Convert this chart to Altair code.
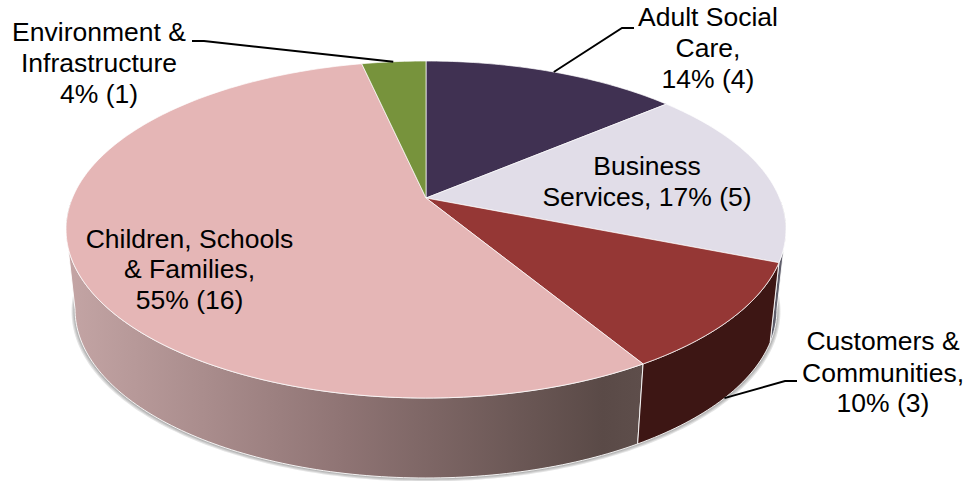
import math
import altair as alt

# Council services and the number of items in each, clockwise from twelve o'clock
services = ["Adult Social Care", "Business Services", "Customers & Communities",
            "Children, Schools & Families", "Environment & Infrastructure"]
counts = [4, 5, 3, 16, 1]
top_colors = ["#403152", "#E1DDE8", "#953735", "#E5B6B6", "#77933C"]
wall_colors = {"Business Services": "#5F5E6B", "Customers & Communities": "#3D1614"}

# Label lines: text, centre x, baseline y
label_text = ["Environment &", "Infrastructure", "4% (1)",
              "Adult Social", "Care,", "14% (4)",
              "Business", "Services, 17% (5)",
              "Children, Schools", "& Families,", "55% (16)",
              "Customers &", "Communities,", "10% (3)"]
label_x = [99, 99, 99, 708, 708, 708, 647, 647, 189.5, 189.5, 189.5, 883, 883, 883]
label_y = [41, 72, 103, 26, 57, 88, 175, 206, 248, 278, 309, 350, 382, 412]

# Camera used for the tilted disc
CX, APEX_Y, RX, RY, PERSP = 426.0, 198.0, 353.6, 162.6, 0.187
DEPTH, BASE_SCALE = 80.0, 0.975
WIDE_RIGHT = 100.8   # angle of the disc's right-most rim point
WIDE_LEFT = 259.2    # angle of the disc's left-most rim point


def rim(angle, lower=False, grow=0.0):
    a = math.radians(angle)
    w = 1 + PERSP * math.cos(a)
    x = RX * math.sin(a) / w
    y = APEX_Y - RY * math.cos(a) / w
    if lower:
        x = x * BASE_SCALE
        y = y + DEPTH
    return [CX + x * (1 + grow / 350), y + grow * (0.4 + 0.6 * math.cos(a) * -1)]


def sweep(a0, a1, step=1.0):
    n = max(2, int(abs(a1 - a0) / step) + 1)
    return [a0 + (a1 - a0) * i / (n - 1) for i in range(n)]


def feature(ring, **props):
    ring = ring + [ring[0]]
    return {"type": "Feature", "properties": props,
            "geometry": {"type": "Polygon", "coordinates": [ring]}}


total = sum(counts)
edges = [0.0]
for c in counts:
    edges.append(edges[-1] + 360.0 * c / total)
spans = {s: (edges[i], edges[i + 1]) for i, s in enumerate(services)}

top_features = []
for s, col in zip(services, top_colors):
    a0, a1 = spans[s]
    top_features.append(feature([[CX, APEX_Y]] + [rim(a) for a in sweep(a0, a1)], fill=col))


def wall(a0, a1, **props):
    angles = sweep(a0, a1)
    return feature([rim(a) for a in angles] + [rim(a, True) for a in reversed(angles)], **props)


wall_features = [
    wall(WIDE_RIGHT, spans["Business Services"][1], fill=wall_colors["Business Services"]),
    wall(*spans["Customers & Communities"], fill=wall_colors["Customers & Communities"]),
]
children_wall = [wall(spans["Children, Schools & Families"][0], WIDE_LEFT)]

# Soft drop shadow: stacked translucent bands just outside the lower rim
shadow_features = []
for g in [3.5, 2.5, 1.5, 0.7]:
    angles = sweep(WIDE_RIGHT - 10, WIDE_LEFT + 10)
    shadow_features.append(feature([rim(a, True, g) for a in angles]
                                   + [rim(a) for a in reversed(angles)]))

IDENTITY = dict(type="identity", scale=1, translate=[0, 0])

shadow = alt.Chart(alt.Data(values=shadow_features)).mark_geoshape(
    fill="#555555", fillOpacity=0.16, strokeWidth=0
).project(**IDENTITY)

walls = alt.Chart(alt.Data(values=wall_features)).mark_geoshape(
    stroke="#FFFFFF", strokeWidth=0.9
).encode(fill=alt.Fill("properties.fill:N", scale=None)).project(**IDENTITY)

children_side = alt.Chart(alt.Data(values=children_wall)).mark_geoshape(
    stroke="#FFFFFF", strokeWidth=0.9,
    fill=alt.LinearGradient(
        gradient="linear", x1=0, x2=1, y1=0, y2=0,
        stops=[alt.GradientStop(color="#C4A5A5", offset=0),
               alt.GradientStop(color="#8F7474", offset=0.48),
               alt.GradientStop(color="#5A4A47", offset=0.93),
               alt.GradientStop(color="#5E4E4B", offset=1)])
).project(**IDENTITY)

tops = alt.Chart(alt.Data(values=top_features)).mark_geoshape(
    stroke="#FFFFFF", strokeWidth=0.7
).encode(fill=alt.Fill("properties.fill:N", scale=None)).project(**IDENTITY)

# Leader lines run from a rim point through an elbow to the label
leaders = [
    ("Environment", [rim(353.7), [204, 41], [192, 41]]),
    ("Adult", [rim(25), [622, 28], [634, 28]]),
    ("Customers", [rim(130.5, True), [785, 381], [797, 381]]),
]
leader_rows = [{"id": k, "i": i, "x": p[0], "y": p[1]}
               for k, pts in leaders for i, p in enumerate(pts)]

x_scale = alt.Scale(domain=[0, 968], range=[0, 968])
y_scale = alt.Scale(domain=[0, 481], range=[0, 481])

leader_lines = alt.Chart(alt.Data(values=leader_rows)).mark_line(
    color="#000000", strokeWidth=1.9
).encode(
    x=alt.X("x:Q", scale=x_scale, axis=None),
    y=alt.Y("y:Q", scale=y_scale, axis=None),
    detail="id:N",
    order="i:Q",
)

label_rows = [{"t": t, "x": x, "y": y} for t, x, y in zip(label_text, label_x, label_y)]
labels = alt.Chart(alt.Data(values=label_rows)).mark_text(
    font="Liberation Sans", fontSize=26.5, color="#000000", align="center", baseline="alphabetic"
).encode(
    x=alt.X("x:Q", scale=x_scale, axis=None),
    y=alt.Y("y:Q", scale=y_scale, axis=None),
    text="t:N",
)

chart = alt.layer(shadow, children_side, walls, tops, leader_lines, labels).properties(
    width=968, height=481, padding=0, autosize=alt.AutoSizeParams(type="none"),
    background="#FFFFFF",
).configure_view(stroke=None)

chart.save("out.html", embed_options={"renderer": "svg", "actions": False})
